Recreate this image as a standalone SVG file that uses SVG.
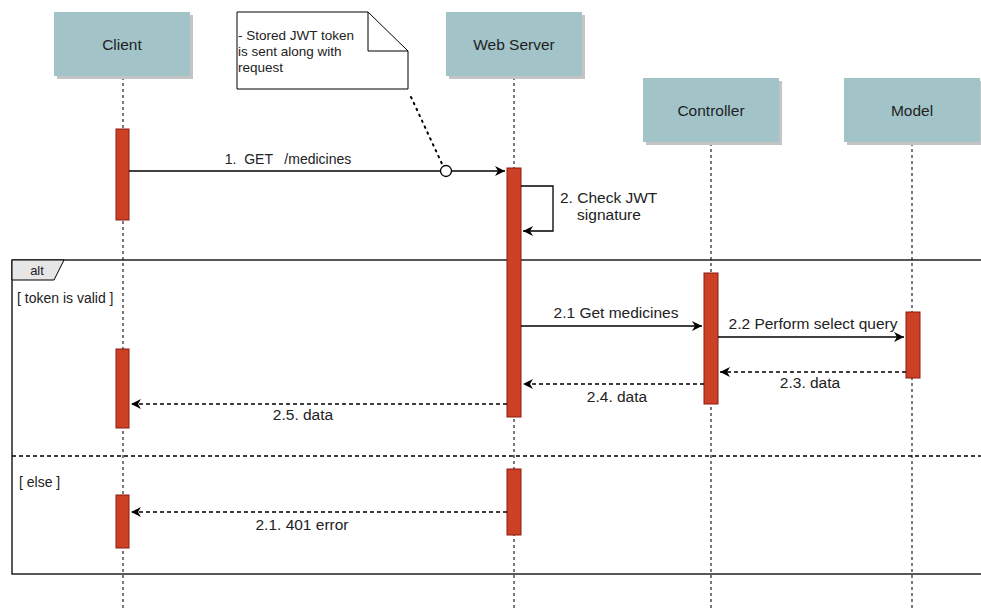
<svg xmlns="http://www.w3.org/2000/svg" width="981" height="610" viewBox="0 0 981 610">
<style>
text{font-family:"Liberation Sans",Arial,sans-serif;fill:#222;}
.box{fill:#a2c4c9;}
.shadow{fill:#c4c4c4;}
.lbl{font-size:15.5px;text-anchor:middle;}
.msg{font-size:15.5px;text-anchor:middle;white-space:pre;}
.small{font-size:14px;}
.note{font-size:13.5px;}
.life{stroke:#333;stroke-width:1.3;stroke-dasharray:3,3;fill:none;}
.act{fill:#cc4125;stroke:#8b1d10;stroke-width:1;}
.solid{stroke:#000;stroke-width:1.3;fill:none;}
.dash{stroke:#000;stroke-width:1.3;fill:none;stroke-dasharray:4,3;}
</style>
<defs>
<marker id="ah" markerWidth="12" markerHeight="10" refX="10" refY="5" orient="auto" markerUnits="userSpaceOnUse">
<path d="M0,0 L10,5 L0,10 L3,5 Z" fill="#000"/>
</marker>
</defs>
<rect width="981" height="610" fill="#fff"/>

<g id="lifelines">
<line class="life" x1="123" y1="77" x2="123" y2="610"/>
<line class="life" x1="514" y1="77" x2="514" y2="610"/>
<line class="life" x1="711" y1="143" x2="711" y2="610"/>
<line class="life" x1="912" y1="143" x2="912" y2="610"/>
</g>

<g id="frame">
<rect x="12" y="260" width="980" height="314" fill="none" stroke="#000" stroke-width="1.3"/>
<path d="M12,260 L64,260 L54,280 L12,280 Z" fill="#e6e6e6" stroke="#000" stroke-width="1"/>
<text x="37" y="275" text-anchor="middle" style="font-size:13px">alt</text>
<text class="small" x="17" y="303">[ token is valid ]</text>
<line x1="12" y1="456" x2="981" y2="456" stroke="#000" stroke-width="1.3" stroke-dasharray="4,3"/>
<text class="small" x="19" y="487">[ else ]</text>
</g>

<g id="client">
<rect class="shadow" x="57" y="15" width="136" height="64"/>
<rect class="box" x="54" y="12" width="136" height="64"/>
<text class="lbl" x="122" y="50">Client</text>
</g>
<g id="webserver">
<rect class="shadow" x="449" y="15" width="136" height="64"/>
<rect class="box" x="446" y="12" width="136" height="64"/>
<text class="lbl" x="514" y="50">Web Server</text>
</g>
<g id="controller">
<rect class="shadow" x="646" y="81" width="136" height="64"/>
<rect class="box" x="643" y="78" width="136" height="64"/>
<text class="lbl" x="711" y="116">Controller</text>
</g>
<g id="model">
<rect class="shadow" x="847" y="81" width="136" height="64"/>
<rect class="box" x="844" y="78" width="136" height="64"/>
<text class="lbl" x="912" y="116">Model</text>
</g>

<g id="note">
<path d="M237,12 L368,12 L408,51 L408,89 L237,89 Z" fill="#fff" stroke="#000" stroke-width="1"/>
<path d="M368,12 L368,51 L408,51" fill="none" stroke="#000" stroke-width="1"/>
<text class="note" x="238" y="40">- Stored JWT token</text>
<text class="note" x="238" y="56">is sent along with</text>
<text class="note" x="238" y="72">request</text>
</g>

<g id="activations">
<rect class="act" x="116" y="129" width="13" height="91"/>
<rect class="act" x="507" y="168" width="14" height="249"/>
<rect class="act" x="704" y="273" width="14" height="131"/>
<rect class="act" x="906" y="312" width="14" height="66"/>
<rect class="act" x="116" y="349" width="13" height="79"/>
<rect class="act" x="507" y="469" width="14" height="66"/>
<rect class="act" x="116" y="495" width="13" height="53"/>
</g>

<g id="connectors">
<line class="solid" x1="129" y1="171" x2="505" y2="171" marker-end="url(#ah)"/>
<line x1="411" y1="97" x2="443" y2="166" stroke="#000" stroke-width="2" stroke-dasharray="1.5,5" stroke-linecap="round"/>
<circle cx="446" cy="171" r="5.5" fill="#fff" stroke="#000" stroke-width="1.3"/>
<path class="solid" d="M521,186 L553,186 L553,231 L523,231" marker-end="url(#ah)"/>
<line class="solid" x1="521" y1="326" x2="702" y2="326" marker-end="url(#ah)"/>
<line class="solid" x1="718" y1="337" x2="904" y2="337" marker-end="url(#ah)"/>
<line class="dash" x1="906" y1="372" x2="720" y2="372" marker-end="url(#ah)"/>
<line class="dash" x1="704" y1="384" x2="523" y2="384" marker-end="url(#ah)"/>
<line class="dash" x1="507" y1="404" x2="131" y2="404" marker-end="url(#ah)"/>
<line class="dash" x1="507" y1="512" x2="131" y2="512" marker-end="url(#ah)"/>
</g>

<g id="labels">
<text class="msg" x="288" y="164" style="font-size:14px">1.  GET   /medicines</text>
<text class="msg" x="560" y="203" style="text-anchor:start">2. Check JWT</text>
<text class="msg" x="609" y="220">signature</text>
<text class="msg" x="616" y="318">2.1 Get medicines</text>
<text class="msg" x="813" y="329">2.2 Perform select query</text>
<text class="msg" x="810" y="388">2.3. data</text>
<text class="msg" x="617" y="402">2.4. data</text>
<text class="msg" x="303" y="420">2.5. data</text>
<text class="msg" x="302" y="530">2.1. 401 error</text>
</g>
</svg>
